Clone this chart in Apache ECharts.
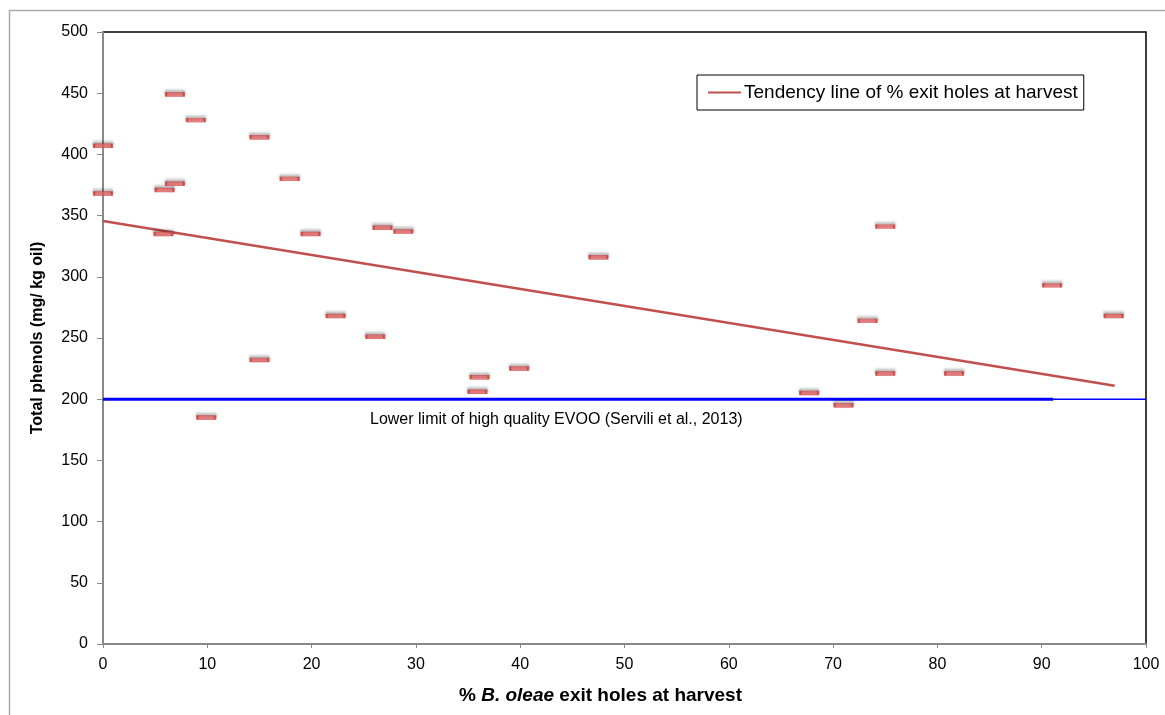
<!DOCTYPE html>
<html>
<head>
<meta charset="utf-8">
<script src="https://cdn.jsdelivr.net/npm/echarts@6/dist/echarts.min.js"></script>
<style>
html,body{margin:0;padding:0;background:#fff;}
#chart{width:1165px;height:715px;}
</style>
</head>
<body>
<div id="chart"></div>
<script>
// Observed points: [% exit holes at harvest, total phenols mg/kg oil]
const exitHoles = [0, 0, 6.9, 8.9, 5.9, 6.9, 5.8, 15, 17.9, 19.9, 9.9, 15, 22.3, 26.1, 26.8, 28.8, 36.1, 35.9, 39.9, 47.5, 67.7, 71, 73.3, 75, 75, 81.6, 91, 96.9];
const phenols   = [407, 368, 449, 428, 371, 376, 335, 414, 380, 335, 185, 232, 268, 251, 340, 337, 218, 206, 225, 316, 205, 195, 264, 341, 221, 221, 293, 268];
// Tendency line endpoints
const trendX = [0, 97];
const trendY = [345.6, 211];
// Lower limit of high quality EVOO
const limitValue = 200;
const limitThickX = [0, 91.1];
const limitThinX = [91.1, 100];
const xTicks = [0, 10, 20, 30, 40, 50, 60, 70, 80, 90, 100];
const yTicks = [0, 50, 100, 150, 200, 250, 300, 350, 400, 450, 500];

const trendName = 'Tendency line of % exit holes at harvest';
const FONT = 'Liberation Sans, Arial, sans-serif';

const chart = echarts.init(document.getElementById('chart'), null, {renderer: 'canvas'});
const option = {
  backgroundColor: '#fff',
  animation: false,
  grid: {left: 103, top: 32, right: 19, bottom: 71, show: true, borderColor: '#000', borderWidth: 1.5, containLabel: false},
  legend: {
    data: [{name: trendName, icon: 'rect'}],
    left: 697, top: 75,
    itemWidth: 33, itemHeight: 2, itemGap: 0,
    padding: [8, 6, 8, 11],
    borderColor: '#000', borderWidth: 1,
    backgroundColor: '#fff',
    textStyle: {fontFamily: FONT, fontSize: 19, color: '#000', padding: [0, 0, 0, -2]}
  },
  xAxis: {
    type: 'value', min: xTicks[0], max: xTicks[xTicks.length - 1], interval: 10,
    name: '{p|% }{i|B. oleae}{p| exit holes at harvest}',
    nameLocation: 'middle', nameGap: 42,
    nameTextStyle: {padding: [0, 48, 0, 0], rich: {
      p: {fontFamily: FONT, fontSize: 19, fontWeight: 'bold', color: '#000'},
      i: {fontFamily: FONT, fontSize: 19, fontWeight: 'bold', fontStyle: 'italic', color: '#000'}
    }},
    axisLine: {show: true, lineStyle: {color: '#888', width: 2}},
    axisTick: {show: true, inside: false, length: 4, lineStyle: {color: '#888', width: 1}},
    axisLabel: {fontFamily: FONT, fontSize: 16, color: '#000', margin: 13},
    splitLine: {show: false}
  },
  yAxis: {
    type: 'value', min: yTicks[0], max: yTicks[yTicks.length - 1], interval: 50,
    name: 'Total phenols (mg/ kg oil)',
    nameLocation: 'middle', nameGap: 57, nameRotate: 90,
    nameTextStyle: {fontFamily: FONT, fontSize: 16, fontWeight: 'bold', color: '#000'},
    axisLine: {show: true, lineStyle: {color: '#888', width: 2}},
    axisTick: {show: true, inside: false, length: 6, lineStyle: {color: '#888', width: 1}},
    axisLabel: {fontFamily: FONT, fontSize: 16, color: '#000', margin: 15},
    splitLine: {show: false}
  },
  series: [
    {
      type: 'line', name: 'limitThick', silent: true, symbol: 'none',
      data: limitThickX.map(x => [x, limitValue]),
      lineStyle: {color: '#0000ff', width: 3}, z: 2
    },
    {
      type: 'line', name: 'limitThin', silent: true, symbol: 'none',
      data: limitThinX.map(x => [x, limitValue]),
      lineStyle: {color: '#0000ff', width: 1.5}, z: 2
    },
    {
      type: 'line', name: trendName, symbol: 'none',
      data: trendX.map((x, i) => [x, trendY[i]]),
      lineStyle: {color: '#c0504d', width: 2.5},
      itemStyle: {color: '#c0504d'}, z: 3
    },
    {
      type: 'scatter', name: 'points',
      symbol: 'rect', symbolSize: [18, 4],
      data: exitHoles.map((x, i) => [x, phenols[i]]),
      itemStyle: {
        color: '#e86565', borderColor: '#c83a3a', borderWidth: 1,
        shadowColor: 'rgba(0,0,0,0.35)', shadowBlur: 3, shadowOffsetY: -2
      },
      z: 4
    }
  ],
  graphic: [
    {type: 'line', shape: {x1: 9, y1: 10.5, x2: 1165, y2: 10.5}, style: {stroke: '#aaa', lineWidth: 1.5}, silent: true},
    {type: 'line', shape: {x1: 9.5, y1: 10, x2: 9.5, y2: 715}, style: {stroke: '#aaa', lineWidth: 1.5}, silent: true},
    {type: 'text', left: 370, top: 412, style: {text: 'Lower limit of high quality EVOO (Servili et al., 2013)', fontFamily: FONT, fontSize: 16, fill: '#000'}, z: 10}
  ]
};
chart.setOption(option);
</script>
</body>
</html>
